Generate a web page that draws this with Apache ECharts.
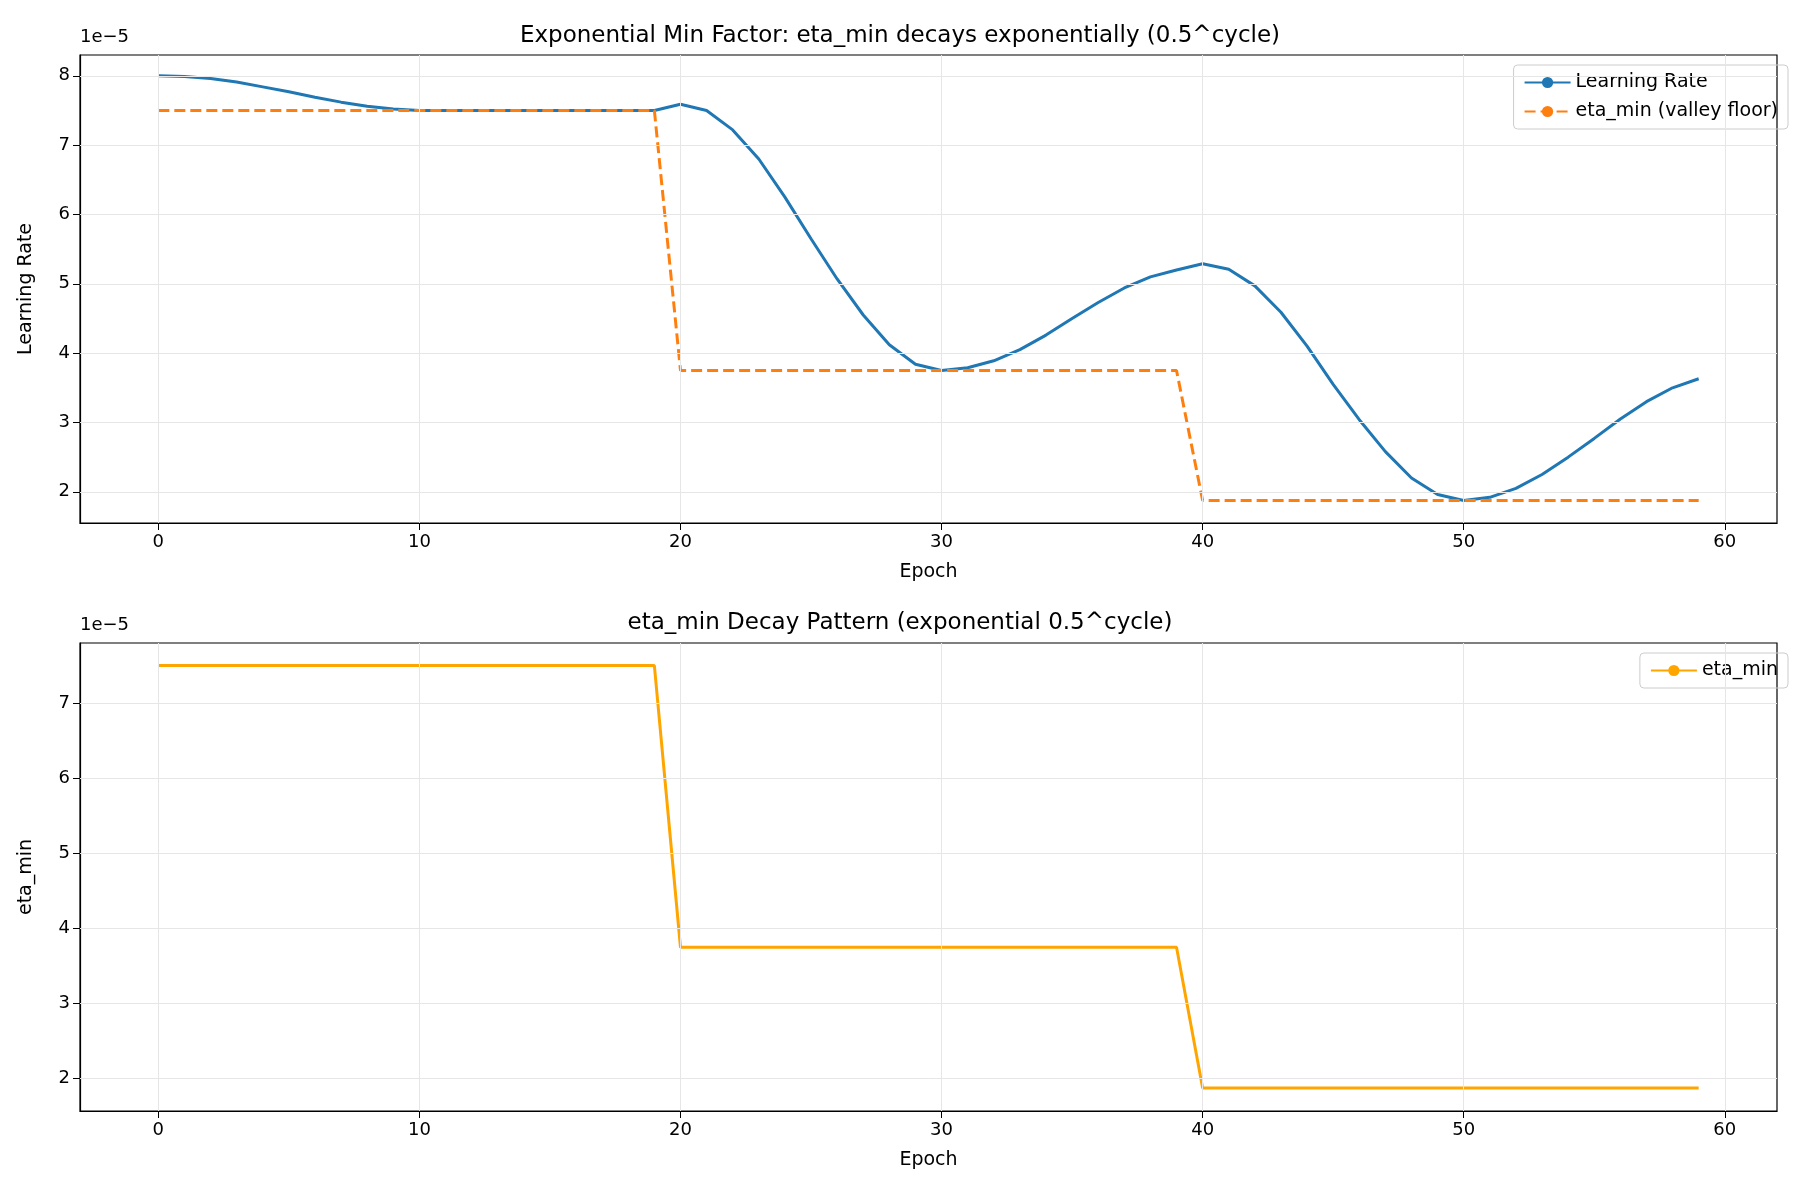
<!DOCTYPE html>
<html><head><meta charset="utf-8">
<script src="https://cdn.jsdelivr.net/npm/echarts@6/dist/echarts.min.js"></script>
<style>html,body{margin:0;background:#fff}#c{width:1800px;height:1200px}</style>
</head><body><div id="c"></div>
<script>
// values in units of 1e-5
const epochs = Array.from({length:60},(_,i)=>i);
const lr = [8.0,7.99,7.96,7.91,7.84,7.77,7.69,7.62,7.56,7.52,7.5,7.5,7.5,7.5,7.5,7.5,7.5,7.5,7.5,7.5,
 7.59,7.5,7.22,6.8,6.25,5.65,5.07,4.55,4.12,3.84,3.75,3.79,3.89,4.05,4.26,4.5,4.73,4.94,5.1,5.2,
 5.29,5.21,4.97,4.59,4.1,3.55,3.04,2.58,2.2,1.96,1.875,1.92,2.05,2.25,2.5,2.77,3.05,3.3,3.5,3.63];
const etaMin = [7.5,7.5,7.5,7.5,7.5,7.5,7.5,7.5,7.5,7.5,7.5,7.5,7.5,7.5,7.5,7.5,7.5,7.5,7.5,7.5,
 3.75,3.75,3.75,3.75,3.75,3.75,3.75,3.75,3.75,3.75,3.75,3.75,3.75,3.75,3.75,3.75,3.75,3.75,3.75,3.75,
 1.875,1.875,1.875,1.875,1.875,1.875,1.875,1.875,1.875,1.875,1.875,1.875,1.875,1.875,1.875,1.875,1.875,1.875,1.875,1.875];
const xTicks = [0,10,20,30,40,50,60];
const yTicks = [2,3,4,5,6,7,8];
const yTicks2 = [2,3,4,5,6,7];

const font = 'DejaVu Sans';
const ax = {axisLine:{show:true,onZero:false,lineStyle:{color:'#000',width:1.2}},
  splitLine:{show:true,lineStyle:{color:'#e6e6e6',width:1}}};
function xa(i){return Object.assign({},JSON.parse(JSON.stringify(ax)),{type:'value',gridIndex:i,min:-3,max:62,
  name:'Epoch',nameLocation:'middle',nameGap:40,nameTextStyle:{fontSize:19,fontFamily:font,color:'#000'},
  axisTick:{show:true,inside:false,length:7,customValues:xTicks,lineStyle:{color:'#000'}},
  axisLabel:{color:'#000',fontSize:18,fontFamily:font,margin:10,customValues:xTicks}});}
function ya(i,min,max,ticks,name){return Object.assign({},JSON.parse(JSON.stringify(ax)),{type:'value',gridIndex:i,min:min,max:max,
  name:name,nameLocation:'middle',nameGap:44,nameTextStyle:{fontSize:19,fontFamily:font,color:'#000'},
  axisTick:{show:true,inside:false,length:7,customValues:ticks,lineStyle:{color:'#000'}},
  axisLabel:{color:'#000',fontSize:18,fontFamily:font,margin:10,customValues:ticks}});}
const gridLines = (ticksX, ticksY)=>({silent:true,symbol:'none',label:{show:false},
  lineStyle:{color:'#e6e6e6',type:'solid',width:1},
  data:[...ticksX.map(v=>({xAxis:v})),...ticksY.map(v=>({yAxis:v}))]});
const chart = echarts.init(document.getElementById('c'));
chart.setOption({
  animation:false,
  title:[{text:'Exponential Min Factor: eta_min decays exponentially (0.5^cycle)',left:'center',top:20,textStyle:{fontSize:23,fontWeight:'normal',fontFamily:font,color:'#000'}},
         {text:'eta_min Decay Pattern (exponential 0.5^cycle)',left:'center',top:607,textStyle:{fontSize:23,fontWeight:'normal',fontFamily:font,color:'#000'}}],
  grid:[{left:80,right:23,top:55,height:468,show:true,borderColor:'#000',borderWidth:1.2},
        {left:80,right:23,top:643,height:468,show:true,borderColor:'#000',borderWidth:1.2}],
  legend:[{top:65,right:12,orient:'vertical',itemGap:10,itemWidth:46,itemHeight:14,data:['Learning Rate','eta_min (valley floor)'],
     textStyle:{fontSize:19,fontFamily:font,color:'#000'},borderColor:'#ccc',borderWidth:1,borderRadius:4,padding:[8,10]},
    {top:653,right:12,itemWidth:46,data:['eta_min'],textStyle:{fontSize:19,fontFamily:font,color:'#000'},borderColor:'#ccc',borderWidth:1,borderRadius:4,padding:[8,10]}],
  xAxis:[xa(0),xa(1)],
  yAxis:[ya(0,1.55,8.3,yTicks,'Learning Rate'),ya(1,1.57,7.8,yTicks2,'eta_min')],
  graphic:[{type:'text',left:80,top:28,style:{text:'1e−5',fontSize:18,fontFamily:font,fill:'#000'}},
           {type:'text',left:80,top:616,style:{text:'1e−5',fontSize:18,fontFamily:font,fill:'#000'}}],
  series:[
    {name:'Learning Rate',type:'line',xAxisIndex:0,yAxisIndex:0,data:epochs.map((e,i)=>[e,lr[i]]),symbol:'none',
      lineStyle:{color:'#1f77b4',width:3},itemStyle:{color:'#1f77b4'},markLine:gridLines(xTicks,yTicks),z:3},
    {name:'eta_min (valley floor)',type:'line',xAxisIndex:0,yAxisIndex:0,data:epochs.map((e,i)=>[e,etaMin[i]]),symbol:'none',
      lineStyle:{color:'#ff7f0e',width:3,type:[11,5]},itemStyle:{color:'#ff7f0e'},z:3},
    {name:'eta_min',type:'line',xAxisIndex:1,yAxisIndex:1,data:epochs.map((e,i)=>[e,etaMin[i]]),symbol:'none',
      lineStyle:{color:'#ffa500',width:3},itemStyle:{color:'#ffa500'},markLine:gridLines(xTicks,yTicks2),z:3}
  ]
});
</script></body></html>
